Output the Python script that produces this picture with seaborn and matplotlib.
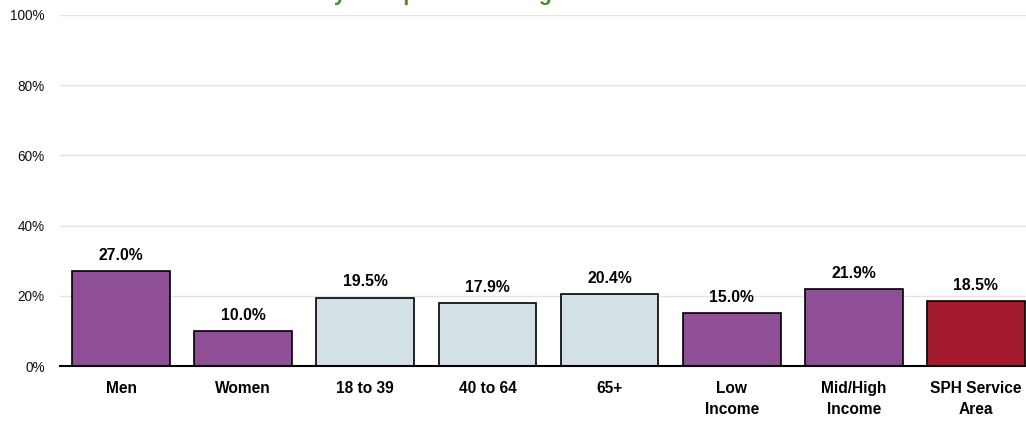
import pandas as pd
import matplotlib.pyplot as plt
import seaborn as sns
from matplotlib.ticker import FuncFormatter

# dados do grafico
categorias = ["Men", "Women", "18 to 39", "40 to 64", "65+",
              "Low\nIncome", "Mid/High\nIncome", "SPH Service\nArea"]
valores = [27.0, 10.0, 19.5, 17.9, 20.4, 15.0, 21.9, 18.5]
cores = ["#8e4f96", "#8e4f96", "#d3e0e5", "#d3e0e5", "#d3e0e5",
         "#8e4f96", "#8e4f96", "#a31a2e"]
titulo = "Current Smokers by Group in Percentage"

df = pd.DataFrame({"grupo": categorias, "valor": valores})

sns.set_style("white")
plt.rcParams['font.family'] = ['Liberation Sans', 'DejaVu Sans']
plt.rcParams['text.color'] = 'black'
plt.rcParams['xtick.color'] = 'black'
plt.rcParams['ytick.color'] = 'black'

fig = plt.figure(figsize=(10.26, 4.21), dpi=100)
ax = fig.add_axes([60 / 1026, 55 / 421, 966 / 1026, 351 / 421])

sns.barplot(data=df, x="grupo", y="valor", hue="grupo", palette=cores,
            legend=False, width=0.8, edgecolor="black", linewidth=1.2,
            saturation=1, ax=ax, zorder=3)

ax.set_ylim(0, 100)
ax.set_xlim(-0.5, 7.41)
ax.set_yticks([0, 20, 40, 60, 80, 100])
ax.yaxis.set_major_formatter(FuncFormatter(lambda v, p: f"{int(v)}%"))
ax.grid(axis="y", color="#e3e3e3", linewidth=1, zorder=0)
ax.set_xlabel("")
ax.set_ylabel("")
for lado in ["top", "right", "left"]:
    ax.spines[lado].set_visible(False)
ax.spines["bottom"].set_color("black")
ax.spines["bottom"].set_linewidth(1.5)
ax.spines["bottom"].set_zorder(4)

ax.tick_params(axis="y", length=0, pad=11, labelsize=9.8, labelcolor="#111111")
ax.tick_params(axis="x", length=0, pad=11, labelsize=11.2, labelcolor="black")
for t in ax.get_xticklabels():
    t.set_fontweight("bold")
    t.set_linespacing(1.45)

# rotulos das barras
for p, v in zip(ax.patches, valores):
    ax.annotate(f"{v:.1f}%", (p.get_x() + p.get_width() / 2, v),
                xytext=(0, 6), textcoords="offset points",
                ha="center", va="bottom", fontsize=11.3, fontweight="bold",
                color="black")

# titulo cortado no topo
fig.text(140 / 1026, 1.0, titulo, ha="left", va="baseline",
         fontsize=15.5, fontweight="bold", color="#4e8a26")

plt.savefig("out.png", dpi=100)
